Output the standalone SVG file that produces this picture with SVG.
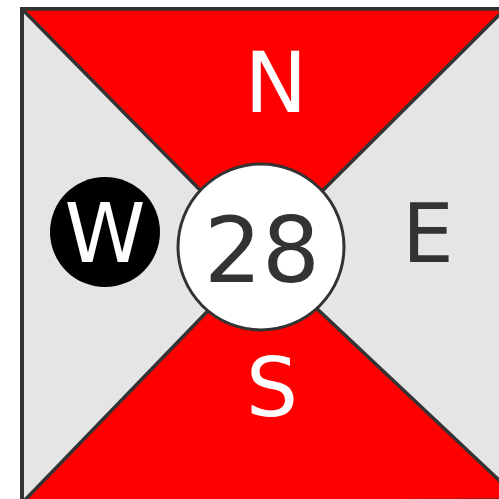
<svg xmlns="http://www.w3.org/2000/svg" width="499" height="499" viewBox="0 0 499 499">
  <style>
    .edge { stroke: #333333; stroke-width: 3.5; stroke-linejoin: round; }
    .lbl { font-family: "DejaVu Sans", sans-serif; text-anchor: middle; }
  </style>
  <rect width="499" height="499" fill="#ffffff"/>
  <g id="frame">
    <rect x="22" y="9" width="490" height="494" fill="#e5e5e5" stroke="#333333" stroke-width="4"/>
  </g>
  <g id="north">
    <polygon class="edge" points="22,9 505,9 261,252" fill="#ff0000"/>
    <text class="lbl" x="276" y="112" font-size="84" fill="#ffffff">N</text>
  </g>
  <g id="south">
    <polygon class="edge" points="22,503 520,500 261,256" fill="#ff0000"/>
    <text class="lbl" x="272" y="416" font-size="82" fill="#ffffff">S</text>
  </g>
  <g id="west">
    <circle cx="105" cy="232" r="55" fill="#000000"/>
    <text class="lbl" x="105" y="262" font-size="82" fill="#ffffff">W</text>
  </g>
  <g id="east">
    <text class="lbl" x="428" y="262" font-size="82" fill="#333333">E</text>
  </g>
  <g id="center">
    <circle cx="261" cy="247" r="83" fill="#ffffff" stroke="#333333" stroke-width="3"/>
    <text class="lbl" x="262" y="282" font-size="91" fill="#333333">28</text>
  </g>
</svg>
